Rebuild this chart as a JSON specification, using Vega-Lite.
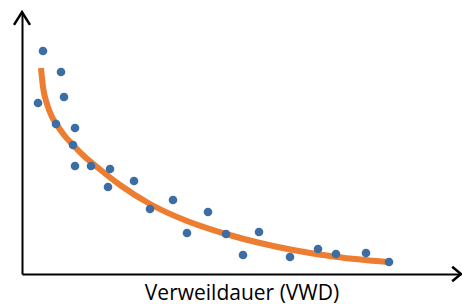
{
  "$schema": "https://vega.github.io/schema/vega-lite/v6.json",
  "width": 439,
  "height": 262,
  "autosize": "none",
  "padding": {"left": 22, "top": 12, "right": 1, "bottom": 30},
  "background": "white",
  "config": {
    "view": {"stroke": null},
    "axis": {"domainColor": "#000000", "domainWidth": 2, "ticks": false, "labels": false, "grid": false}
  },
  "datasets": {
    "pts": [
      {"vwd": 21, "val": 223}, {"vwd": 39, "val": 202}, {"vwd": 42, "val": 177}, {"vwd": 16, "val": 171},
      {"vwd": 34, "val": 150}, {"vwd": 53, "val": 146}, {"vwd": 51, "val": 129}, {"vwd": 53, "val": 108},
      {"vwd": 69, "val": 108}, {"vwd": 88, "val": 105}, {"vwd": 86, "val": 87}, {"vwd": 112, "val": 93},
      {"vwd": 128, "val": 65}, {"vwd": 151, "val": 74}, {"vwd": 165, "val": 41}, {"vwd": 186, "val": 62},
      {"vwd": 204, "val": 40}, {"vwd": 221, "val": 19}, {"vwd": 237, "val": 42}, {"vwd": 268, "val": 17},
      {"vwd": 296, "val": 25}, {"vwd": 314, "val": 20}, {"vwd": 344, "val": 21}, {"vwd": 367, "val": 12}
    ],
    "curve": [
      {"vwd": 19, "val": 206}, {"vwd": 21, "val": 187}, {"vwd": 25, "val": 170}, {"vwd": 30, "val": 157},
      {"vwd": 35, "val": 149}, {"vwd": 42, "val": 139}, {"vwd": 51, "val": 129}, {"vwd": 63, "val": 117},
      {"vwd": 75, "val": 107}, {"vwd": 98, "val": 89}, {"vwd": 128, "val": 70}, {"vwd": 165, "val": 53},
      {"vwd": 204, "val": 40}, {"vwd": 238, "val": 31}, {"vwd": 271, "val": 24}, {"vwd": 315, "val": 17},
      {"vwd": 366, "val": 12}
    ]
  },
  "encoding": {
    "x": {"field": "vwd", "type": "quantitative", "scale": {"domain": [0, 439], "nice": false, "zero": false},
          "axis": {"title": "Verweildauer (VWD)", "titleFont": "Open Sans", "titleFontSize": 21, "titleFontWeight": "normal", "titleColor": "#000000", "titlePadding": 8}},
    "y": {"field": "val", "type": "quantitative", "scale": {"domain": [0, 262], "nice": false, "zero": false},
          "axis": {"title": null}}
  },
  "layer": [
    {"data": {"name": "curve"}, "mark": {"type": "line", "color": "#ED7D31", "strokeWidth": 6, "interpolate": "monotone", "strokeCap": "butt"}},
    {"data": {"name": "pts"}, "mark": {"type": "point", "filled": true, "shape": "circle", "size": 75, "color": "#3D6EA3", "opacity": 1}},
    {"data": {"values": [{"vwd": 0, "val": 262}]}, "mark": {"type": "point", "shape": "M-1,1.6L0,0L1,1.6", "size": 256, "filled": false, "stroke": "#000000", "strokeWidth": 2.5, "opacity": 1}},
    {"data": {"values": [{"vwd": 439, "val": 0}]}, "mark": {"type": "point", "shape": "M-1.1,-0.9L0,0L-1.1,0.9", "size": 256, "filled": false, "stroke": "#000000", "strokeWidth": 2.5, "opacity": 1}}
  ]
}
